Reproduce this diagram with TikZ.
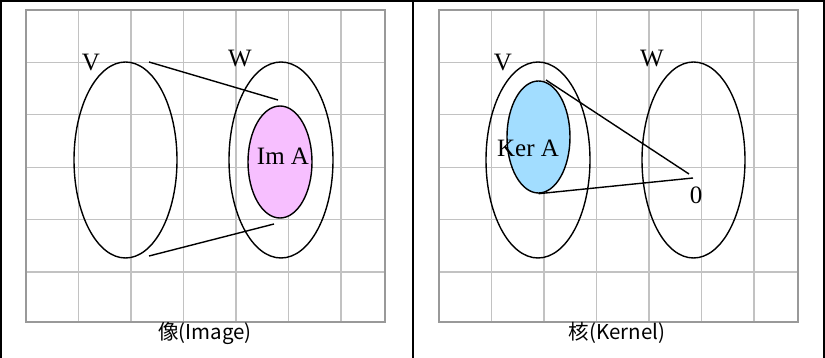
\documentclass[tikz,border=0pt]{standalone}
\usepackage{fontspec}
\setmainfont{Liberation Serif}
\newfontfamily\capfont{Noto Sans CJK JP}
\usepackage{tikz}
\usetikzlibrary{shapes.geometric}
\definecolor{gridGray}{HTML}{C2C2C2}
\definecolor{frameGray}{HTML}{999999}
\definecolor{imPink}{HTML}{F7BFFF}
\definecolor{kerBlue}{HTML}{A2DDFF}

\begin{document}
\begin{tikzpicture}[x=1pt,y=-1pt,
    setshape/.style={draw,ellipse,inner sep=0pt,line width=1.4pt},
    setlabel/.style={inner sep=0pt,font=\fontsize{25}{29}\selectfont},
    caption/.style={inner sep=0pt,font=\capfont\fontsize{20.5}{24}\selectfont},
    mapline/.style={line width=1.4pt}]
        \useasboundingbox (0,0) rectangle (825,358);

        % Outer frame and divider
        \draw[line width=2pt] (1,358) -- (1,1) -- (824,1) -- (824,358);
        \draw[line width=2pt] (413,1) -- (413,358);

        % Grids
        \foreach \ox in {0,413}{
            \begin{scope}[shift={(\ox,0)}]
                \foreach \k in {1,...,6}
                    \draw[gridGray,line width=1.2pt] ({26+52.5*\k},10) -- ({26+52.5*\k},322);
                \foreach \k in {1,...,5}
                    \draw[gridGray,line width=1.2pt] (26,{10+52.4*\k}) -- (385,{10+52.4*\k});
                \draw[frameGray,line width=1.6pt] (26,10) rectangle (385,322);
            \end{scope}
        }

        % Image
        \node[setshape,minimum width=103,minimum height=196] (V1) at (125.5,160) {};
        \node[setshape,minimum width=104,minimum height=196] (W1) at (281,160) {};
        \node[setshape,fill=imPink,minimum width=64,minimum height=112] (im) at (280,162) {};
        \node[setlabel] (imlab) at (283,156) {Im A};
        \node[setlabel] (V1lab) at (91,63) {V};
        \node[setlabel] (W1lab) at (240,59) {W};
        \coordinate (imTopFrom) at (149,62);
        \coordinate (imTopTo) at (278,100);
        \coordinate (imBotFrom) at (149,256);
        \coordinate (imBotTo) at (274,224);
        \draw[mapline] (imTopFrom) -- (imTopTo);
        \draw[mapline] (imBotFrom) -- (imBotTo);
        \node[caption] (imcap) at (205,333) {像(Image)};

        % Kernel
        \node[setshape,minimum width=104,minimum height=196] (V2) at (538,160) {};
        \node[setshape,minimum width=103,minimum height=196] (W2) at (693.5,160) {};
        \node[setshape,fill=kerBlue,minimum width=63,minimum height=112] (ker) at (538.5,137) {};
        \node[setlabel] (kerlab) at (528,148) {Ker A};
        \node[setlabel] (V2lab) at (503,63) {V};
        \node[setlabel] (W2lab) at (652,59) {W};
        \node[setlabel] (zero) at (696,195) {0};
        \coordinate (kerTop) at (546,80);
        \coordinate (zeroTop) at (689,174);
        \coordinate (zeroBot) at (693,178);
        \draw[mapline] (kerTop) -- (zeroTop);
        \draw[mapline] (ker.south) -- (zeroBot);
        \node[caption] (kercap) at (617,333) {核(Kernel)};
\end{tikzpicture}
\end{document}
